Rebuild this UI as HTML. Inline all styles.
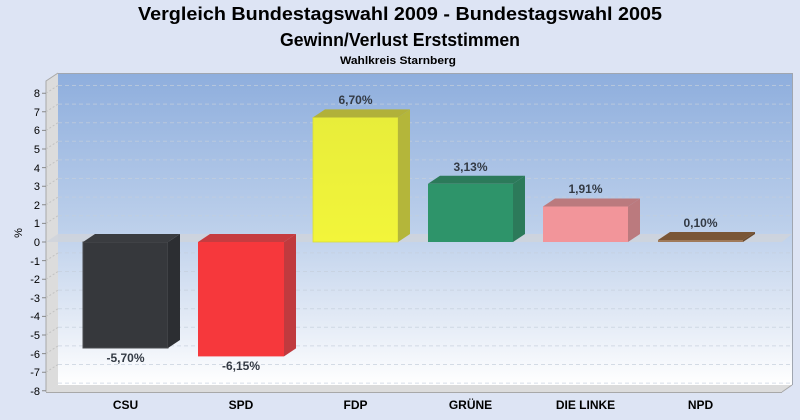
<!DOCTYPE html>
<html><head><meta charset="utf-8"><style>
html,body{margin:0;padding:0;background:#dde4f4;}
svg{display:block;}
text{font-family:"Liberation Sans",Arial,sans-serif;}
</style></head><body>
<svg width="800" height="420" viewBox="0 0 800 420" xmlns="http://www.w3.org/2000/svg">
<defs>
<linearGradient id="bg" x1="0" y1="0" x2="0" y2="1">
<stop offset="0" stop-color="#8eaedd"/>
<stop offset="0.5" stop-color="#bdd0eb"/>
<stop offset="0.8" stop-color="#e4ebf6"/>
<stop offset="1" stop-color="#ffffff"/>
</linearGradient>
<linearGradient id="fdp" x1="0" y1="0" x2="0" y2="1"><stop offset="0" stop-color="#e8ed3a"/><stop offset="1" stop-color="#f2f53a"/></linearGradient>
</defs>
<rect width="800" height="420" fill="#dde4f4"/>
<text x="400" y="20" font-size="18" font-weight="bold" text-anchor="middle" textLength="524" lengthAdjust="spacingAndGlyphs">Vergleich Bundestagswahl 2009 - Bundestagswahl 2005</text>
<text x="400" y="46" font-size="18" font-weight="bold" text-anchor="middle" textLength="240" lengthAdjust="spacingAndGlyphs">Gewinn/Verlust Erststimmen</text>
<text x="398" y="64" font-size="11" font-weight="bold" text-anchor="middle" textLength="116" lengthAdjust="spacingAndGlyphs">Wahlkreis Starnberg</text>

<!-- back plane -->
<rect x="58" y="73" width="734" height="312" fill="url(#bg)"/>
<g stroke="#c4cedc" stroke-opacity="0.7" stroke-width="1" stroke-dasharray="4 3" fill="none">
<path d="M58 85.5H792M58 104.1H792M58 122.7H792M58 141.3H792M58 159.9H792M58 178.5H792M58 197.1H792M58 215.7H792M58 252.9H792M58 271.5H792M58 290.1H792M58 308.7H792M58 327.3H792M58 345.9H792M58 364.5H792M58 383.1H792"/>
</g>
<line x1="792.5" y1="73" x2="792.5" y2="385" stroke="#a0a6b0"/>
<line x1="58" y1="73.5" x2="792" y2="73.5" stroke="#a0a6b0"/>
<!-- left wall -->
<polygon points="46,81 58,73 58,385 46,392" fill="#dcdcdc"/>
<polyline points="46,392 46,81 58,73" fill="none" stroke="#a8a8a8"/>
<!-- floor -->
<polygon points="46,392 58,385 792,385 782,392" fill="#dcdcdc"/>
<line x1="46" y1="392.5" x2="782" y2="392.5" stroke="#a8a8a8"/>
<line x1="782" y1="392" x2="792" y2="385" stroke="#a8a8a8"/>
<!-- wall diagonal ticks -->
<g stroke="#c2c2c2" stroke-dasharray="2 2" fill="none">
<path d="M46 93.2L58 85.5M46 111.8L58 104.1M46 130.4L58 122.7M46 149L58 141.3M46 167.6L58 159.9M46 186.2L58 178.5M46 204.8L58 197.1M46 223.4L58 215.7M46 260.6L58 252.9M46 279.2L58 271.5M46 297.8L58 290.1M46 316.4L58 308.7M46 335L58 327.3M46 353.6L58 345.9M46 372.2L58 364.5"/>
</g>
<g stroke="#888" fill="none">
<path d="M42 93.2H46M42 111.8H46M42 130.4H46M42 149H46M42 167.6H46M42 186.2H46M42 204.8H46M42 223.4H46M42 242H46M42 260.6H46M42 279.2H46M42 297.8H46M42 316.4H46M42 335H46M42 353.6H46M42 372.2H46M42 390.8H46"/>
</g>
<!-- y labels -->
<g font-size="11" text-anchor="end" fill="#000">
<text x="40" y="97">8</text><text x="40" y="116">7</text><text x="40" y="134">6</text><text x="40" y="153">5</text><text x="40" y="172">4</text><text x="40" y="190">3</text><text x="40" y="209">2</text><text x="40" y="227">1</text><text x="40" y="246">0</text><text x="40" y="265">-1</text><text x="40" y="283">-2</text><text x="40" y="302">-3</text><text x="40" y="320">-4</text><text x="40" y="339">-5</text><text x="40" y="358">-6</text><text x="40" y="376">-7</text><text x="40" y="395">-8</text>
</g>
<text transform="translate(22,233) rotate(-90)" font-size="11" text-anchor="middle">%</text>
<!-- zero band -->
<polygon points="46,242 58,234 792,234 782,242" fill="#cfd4dc" opacity="0.85"/>

<!-- CSU -->
<rect x="83" y="242" width="85" height="106" fill="#36383c" stroke="#4a4c50" stroke-width="1"/>
<polygon points="168,242 180,234 180,340 168,348" fill="#2c2e32"/>
<polygon points="83,242 95,234 180,234 168,242" fill="#3a3c40"/>
<!-- SPD -->
<rect x="198" y="242" width="86" height="114.4" fill="#f6383c"/>
<polygon points="284,242 296,234 296,348.4 284,356.4" fill="#c03a3e"/>
<polygon points="198,242 210,234 296,234 284,242" fill="#c63c40"/>
<!-- FDP -->
<rect x="313" y="117.4" width="85" height="124.6" fill="url(#fdp)" stroke="#d8dc3c" stroke-width="0.8"/>
<polygon points="398,117.4 410,109.4 410,234 398,242" fill="#b4b63a"/>
<polygon points="313,117.4 325,109.4 410,109.4 398,117.4" fill="#b1b13a"/>
<!-- GRUENE -->
<rect x="428" y="183.8" width="85" height="58.2" fill="#2e946a"/>
<polygon points="513,183.8 525,175.8 525,234 513,242" fill="#2c7a5a"/>
<polygon points="428,183.8 440,175.8 525,175.8 513,183.8" fill="#2c7a5a"/>
<!-- LINKE -->
<rect x="543" y="206.5" width="85" height="35.5" fill="#f2959a"/>
<polygon points="628,206.5 640,198.5 640,234 628,242" fill="#bb7a7e"/>
<polygon points="543,206.5 555,198.5 640,198.5 628,206.5" fill="#bb7a7e"/>
<!-- NPD -->
<polygon points="658,240 670,232 755,232 743,240" fill="#7a5636"/>
<rect x="658" y="240" width="85" height="2" fill="#a07a5a"/>
<polygon points="743,240 755,232 755,234 743,242" fill="#6a4a2e"/>

<!-- value labels -->
<g font-size="12" font-weight="bold" text-anchor="middle" fill="#333a44">
<text x="125.5" y="362">-5,70%</text>
<text x="241" y="370">-6,15%</text>
<text x="355.5" y="104">6,70%</text>
<text x="470.5" y="171">3,13%</text>
<text x="585.5" y="193">1,91%</text>
<text x="700.5" y="227">0,10%</text>
</g>
<!-- category labels -->
<g font-size="12" font-weight="bold" text-anchor="middle" fill="#000">
<text x="125.5" y="409">CSU</text>
<text x="241" y="409">SPD</text>
<text x="355.5" y="409">FDP</text>
<text x="470.5" y="409">GRÜNE</text>
<text x="585.5" y="409">DIE LINKE</text>
<text x="700.5" y="409">NPD</text>
</g>
</svg>
</body></html>
